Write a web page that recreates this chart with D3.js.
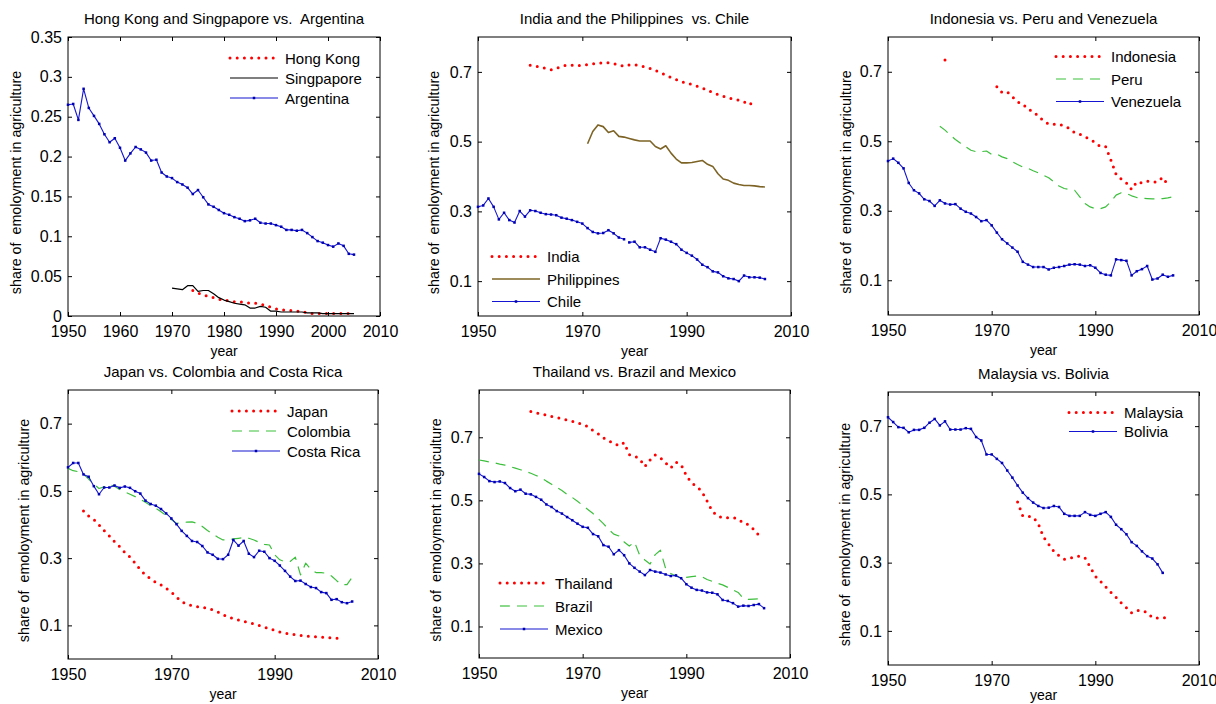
<!DOCTYPE html>
<html>
<head>
<meta charset="utf-8">
<script src="https://cdn.jsdelivr.net/npm/d3@7"></script>
<style>
  body { margin: 0; background: #fff; }
  text { font-family: Arial, "Liberation Sans", sans-serif; fill: #000; }
</style>
</head>
<body>
<div id="chart"></div>
<script>
// tick labels
var xTicksDecade = [1950, 1960, 1970, 1980, 1990, 2000, 2010];
var xTicksWide = [1950, 1970, 1990, 2010];
var yTicksSmall = [0, 0.05, 0.1, 0.15, 0.2, 0.25, 0.3, 0.35];
var yTicksShare = [0.1, 0.3, 0.5, 0.7];

// series: first year + one value per year (null = missing)
var hongKongStart = 1974;
var hongKong = [0.032,0.029,0.026,0.025,0.023,0.021,0.020,0.019,0.018,0.018,0.017,0.016,0.016,0.015,0.013,0.011,
  0.009,0.008,0.007,0.007,0.006,0.006,0.004,0.003,0.003,0.003,0.003,0.003,0.003,0.003,0.003];
var singaporeStart = 1970;
var singapore = [0.035,0.034,0.033,0.038,0.038,0.031,0.032,0.032,0.028,0.023,0.020,0.018,0.016,0.015,0.014,0.010,
  0.010,0.012,0.011,0.006,0.006,0.005,0.005,0.005,0.005,0.005,0.004,0.004,0.004,0.003,0.003,0.003,0.003,0.003,0.003,0.003];
var argentinaStart = 1950;
var argentina = [0.265,0.266,0.246,0.285,0.261,0.251,0.241,0.228,0.218,0.223,0.211,0.195,0.204,0.212,0.209,0.205,
  0.195,0.196,0.180,0.175,0.173,0.168,0.165,0.161,0.153,0.158,0.149,0.140,0.137,0.133,0.129,0.127,0.124,0.122,
  0.119,0.120,0.122,0.117,0.116,0.116,0.114,0.112,0.108,0.108,0.107,0.108,0.104,0.099,0.094,0.092,0.089,0.087,
  0.091,0.088,0.078,0.077];

var indiaStart = 1960;
var india = [0.719,0.717,0.713,0.710,0.706,0.710,0.716,0.719,0.719,0.718,0.719,0.721,0.723,0.725,0.726,0.726,
  0.724,0.720,0.716,0.720,0.721,0.718,0.714,0.710,0.704,0.698,0.691,0.684,0.678,0.672,0.668,0.664,0.659,0.654,
  0.647,0.641,0.635,0.630,0.625,0.622,0.619,0.614,0.605,0.617];
var philippinesStart = 1971;
var philippines = [0.494,0.529,0.548,0.543,0.526,0.531,0.515,0.513,0.509,0.505,0.502,0.502,0.502,0.486,0.479,
  0.488,0.467,0.450,0.439,0.439,0.440,0.443,0.446,0.435,0.429,0.408,0.393,0.389,0.381,0.377,0.374,0.374,0.373,
  0.371,0.370];
var chileStart = 1950;
var chile = [0.313,0.317,0.337,0.313,0.277,0.296,0.275,0.268,0.301,0.285,0.303,0.301,0.296,0.292,0.291,0.289,
  0.282,0.279,0.275,0.270,0.265,0.252,0.241,0.237,0.238,0.246,0.237,0.225,0.220];
var chileLateStart = 1979;
var chileLate = [0.211,0.213,0.197,0.197,0.190,0.184,0.223,0.219,0.213,0.206,0.190,0.181,0.173,0.162,0.147,
  0.140,0.128,0.125,0.114,0.108,0.106,0.100,0.116,0.111,0.111,0.110,0.106];

var indonesiaStart = 1961;
var indonesia = [0.734,null,null,null,null,null,null,null,null,null,0.657,0.640,0.642,0.628,0.613,0.608,0.592,
  0.586,0.572,0.559,0.549,0.549,0.549,0.544,0.537,0.525,0.520,0.513,0.505,0.496,0.484,0.484,0.446,0.405,0.391,
  0.380,0.361,0.383,0.380,0.385,0.383,0.383,0.396,0.374];
var peruStart = 1960;
var peru = [0.543,0.532,0.518,0.505,0.494,0.484,0.474,0.470,0.470,0.472,0.462,0.463,0.455,0.450,0.441,0.433,
  0.426,0.422,0.415,0.409,0.402,0.395,0.383,0.371,0.364,0.361,0.359,0.340,0.321,0.311,0.306,0.306,0.311,0.326,
  0.345,0.352,0.350,0.343,0.338,0.336,0.335,0.334,0.334,0.335,0.337,0.340];
var venezuelaStart = 1950;
var venezuela = [0.443,0.450,0.438,0.422,0.380,0.359,0.350,0.333,0.328,0.314,0.330,0.321,0.318,0.319,0.306,
  0.297,0.292,0.282,0.270,0.273,0.258,0.237,0.218,0.206,0.194,0.182,0.153,0.145,0.138,0.138,0.138,0.131,0.136,
  0.138,0.141,0.145,0.146,0.145,0.141,0.143,0.136,0.121,0.116,0.114,0.160,0.158,0.156,0.114,0.126,0.132,0.141,
  0.102,0.105,0.116,0.110,0.114];

var japanStart = 1953;
var japan = [0.440,0.425,0.415,0.399,0.382,0.366,0.349,0.334,0.317,0.303,0.285,0.265,0.250,0.238,0.228,0.220,
  0.210,0.199,0.184,0.171,0.163,0.159,0.156,0.153,0.151,0.146,0.140,0.132,0.125,0.120,0.116,0.112,0.108,0.105,
  0.100,0.095,0.090,0.085,0.080,0.077,0.074,0.072,0.070,0.068,0.067,0.066,0.065,0.064,0.063,0.062,0.060];
var colombiaStart = 1950;
var colombia = [0.567,0.560,0.557,0.550,0.535,0.520,0.507,0.512,0.518,0.514,0.504,0.497,0.490,0.483,0.475,
  0.466,0.456,0.448,0.438,0.427,0.415,0.403,0.406,0.407,0.408,0.403,0.394,0.382,0.372,0.362,0.354,0.354,0.357,
  0.359,0.361,0.359,0.354,0.347,0.341,0.339,0.310,0.295,0.289,0.290,0.303,0.250,0.285,0.267,0.257,0.257,0.255,
  0.247,0.233,0.221,0.221,0.243];
var costaRicaStart = 1950;
var costaRica = [0.570,0.583,0.583,0.549,0.542,0.514,0.490,0.510,0.510,0.516,0.509,0.513,0.509,0.499,0.492,
  0.471,0.461,0.456,0.446,0.433,0.418,0.401,0.381,0.366,0.351,0.348,0.336,0.317,0.310,0.298,0.297,0.310,0.354,
  0.337,0.351,0.313,0.303,0.322,0.319,0.300,0.292,0.278,0.262,0.245,0.232,0.233,0.223,0.214,0.211,0.199,0.196,
  0.176,0.178,0.169,0.166,0.171];

var thailandStart = 1960;
var thailand = [0.782,0.778,0.774,0.771,0.766,0.763,0.759,0.755,0.751,0.746,0.740,0.734,0.721,0.711,0.698,
  0.689,0.681,0.673,0.683,0.645,0.640,0.632,0.607,0.628,0.644,0.635,0.619,0.603,0.621,0.613,0.579,0.555,0.545,
  0.528,0.498,0.466,0.451,0.445,0.445,0.445,0.441,0.428,0.423,0.408,0.389];
var brazilStart = 1950;
var brazil = [0.628,0.625,0.622,0.619,0.615,0.612,0.607,0.602,0.597,0.592,0.586,0.579,0.572,0.561,0.551,0.541,
  0.531,0.519,0.509,0.497,0.484,0.471,0.458,0.442,0.426,0.408,0.393,0.387,0.368,0.355,0.368,0.326,0.311,0.298,
  0.328,0.342,0.284,0.268,0.260,0.253,0.256,0.258,0.260,0.258,0.249,0.243,0.237,0.232,0.224,0.216,0.208,0.189,
  0.186,0.187,0.188,0.189];
var mexicoStart = 1950;
var mexico = [0.584,0.574,0.561,0.558,0.560,0.555,0.539,0.529,0.534,0.521,0.519,0.511,0.502,0.487,0.479,0.466,
  0.458,0.447,0.437,0.426,0.416,0.413,0.393,0.386,0.358,0.353,0.329,0.342,0.326,0.300,0.286,0.274,0.263,0.279,
  0.274,0.271,0.265,0.260,0.262,0.253,0.234,0.223,0.216,0.214,0.208,0.207,0.202,0.184,0.181,0.174,0.163,0.166,
  0.165,0.168,0.171,0.158];

var malaysiaStart = 1975;
var malaysia = [0.478,0.437,0.436,0.434,0.414,0.375,0.354,0.333,0.320,0.310,0.312,0.317,0.319,0.314,0.287,
  0.260,0.245,0.229,0.213,0.198,0.182,0.168,0.153,0.160,0.160,0.154,0.139,0.138,0.138,0.139];
var boliviaStart = 1950;
var bolivia = [0.726,0.712,0.697,0.695,0.682,0.689,0.689,0.695,0.710,0.721,0.702,0.714,0.690,0.690,0.690,0.694,
  0.692,0.668,0.658,0.617,0.617,0.604,0.592,0.570,0.549,0.526,0.505,0.489,0.476,0.466,0.460,0.461,0.466,0.463,
  0.443,0.437,0.437,0.437,0.448,0.440,0.437,0.443,0.448,0.434,0.411,0.398,0.383,0.360,0.349,0.333,0.319,0.312,
  0.295,0.270];

function pts(start, values) {
  return values.map(function (v, i) { return { year: start + i, value: v }; });
}

// line styles
var styles = {
  dotted: { stroke: "#ff0000", width: 3, dash: "0,7.2", cap: "round" },
  black: { stroke: "#000000", width: 1.2 },
  brown: { stroke: "#7d6426", width: 1.6 },
  dashed: { stroke: "#3cbf3c", width: 1.2, dash: "10,7" },
  marked: { stroke: "#1414d2", width: 1.1, marker: "#0000b4" }
};

var panels = [
  { title: "Hong Kong and Singpapore vs.  Argentina", box: [68, 37, 380, 316], yMax: 0.35, yTicks: yTicksSmall,
    xTicks: xTicksDecade, ylabX: 47, legend: [230, 58, 20],
    series: [
      { name: "Hong Kong", data: [pts(hongKongStart, hongKong)], style: "dotted" },
      { name: "Singpapore", data: [pts(singaporeStart, singapore)], style: "black" },
      { name: "Argentina", data: [pts(argentinaStart, argentina)], style: "marked" }] },
  { title: "India and the Philippines  vs. Chile", box: [478, 37, 791, 316], yMax: 0.8, yTicks: yTicksShare,
    xTicks: xTicksWide, ylabX: 39, legend: [492, 256.5, 22.5],
    series: [
      { name: "India", data: [pts(indiaStart, india)], style: "dotted" },
      { name: "Philippines", data: [pts(philippinesStart, philippines)], style: "brown" },
      { name: "Chile", data: [pts(chileStart, chile), pts(chileLateStart, chileLate)], style: "marked" }] },
  { title: "Indonesia vs. Peru and Venezuela", box: [888, 37, 1199, 315], yMax: 0.8, yTicks: yTicksShare,
    xTicks: xTicksWide, ylabX: 37.5, legend: [1056, 56.5, 22.5],
    series: [
      { name: "Indonesia", data: [pts(indonesiaStart, indonesia)], style: "dotted" },
      { name: "Peru", data: [pts(peruStart, peru)], style: "dashed" },
      { name: "Venezuela", data: [pts(venezuelaStart, venezuela)], style: "marked" }] },
  { title: "Japan vs. Colombia and Costa Rica", box: [68, 390, 378, 659], yMax: 0.8, yTicks: yTicksShare,
    xTicks: xTicksWide, ylabX: 39, legend: [232, 411, 20],
    series: [
      { name: "Japan", data: [pts(japanStart, japan)], style: "dotted" },
      { name: "Colombia", data: [pts(colombiaStart, colombia)], style: "dashed" },
      { name: "Costa Rica", data: [pts(costaRicaStart, costaRica)], style: "marked" }] },
  { title: "Thailand vs. Brazil and Mexico", box: [479, 390, 790, 658], yMax: 0.85, yTicks: yTicksShare,
    xTicks: xTicksWide, ylabX: 38.5, legend: [500, 583, 23],
    series: [
      { name: "Thailand", data: [pts(thailandStart, thailand)], style: "dotted" },
      { name: "Brazil", data: [pts(brazilStart, brazil)], style: "dashed" },
      { name: "Mexico", data: [pts(mexicoStart, mexico)], style: "marked" }] },
  { title: "Malaysia vs. Bolivia", box: [888, 392, 1199, 665], yMax: 0.8, yTicks: yTicksShare,
    xTicks: xTicksWide, ylabX: 38.5, legend: [1069, 412.5, 19],
    series: [
      { name: "Malaysia", data: [pts(malaysiaStart, malaysia)], style: "dotted" },
      { name: "Bolivia", data: [pts(boliviaStart, bolivia)], style: "marked" }] }
];

var svg = d3.select("#chart").append("svg")
  .attr("width", 1216)
  .attr("height", 704);

function applyStyle(sel, st) {
  sel.attr("fill", "none")
    .attr("stroke", st.stroke)
    .attr("stroke-width", st.width)
    .attr("stroke-dasharray", st.dash || null)
    .attr("stroke-linecap", st.cap || "butt")
    .attr("stroke-linejoin", "round");
}

panels.forEach(function (p) {
  var left = p.box[0], top = p.box[1], width = p.box[2] - p.box[0], height = p.box[3] - p.box[1];
  var g = svg.append("g").attr("transform", "translate(" + left + "," + top + ")");

  var x = d3.scaleLinear().domain([1950, 2010]).range([0, width]);
  var y = d3.scaleLinear().domain([0, p.yMax]).range([height, 0]);

  // axes with inward ticks on all four sides
  var fmt = d3.format("~g");
  g.append("g").attr("class", "axis")
    .call(d3.axisLeft(y).tickValues(p.yTicks).tickSizeInner(-4).tickSizeOuter(0).tickPadding(6).tickFormat(fmt));
  g.append("g").attr("transform", "translate(" + width + ",0)")
    .call(d3.axisRight(y).tickValues(p.yTicks).tickSizeInner(-4).tickSizeOuter(0).tickFormat(""));
  g.append("g").attr("class", "axis").attr("transform", "translate(0," + height + ")")
    .call(d3.axisBottom(x).tickValues(p.xTicks).tickSizeInner(-4).tickSizeOuter(0).tickPadding(10).tickFormat(d3.format("d")));
  g.append("g")
    .call(d3.axisTop(x).tickValues(p.xTicks).tickSizeInner(-4).tickSizeOuter(0).tickFormat(""));
  g.selectAll(".domain").remove();
  g.selectAll(".tick line").attr("stroke", "#000");
  g.selectAll(".axis text").style("font-size", "16px").attr("fill", "#000");

  g.append("rect")
    .attr("width", width).attr("height", height)
    .attr("fill", "none").attr("stroke", "#000").attr("stroke-width", 1);

  // titles and labels
  g.append("text")
    .attr("x", width / 2).attr("y", -13)
    .attr("text-anchor", "middle")
    .style("font-size", "15px")
    .style("white-space", "pre")
    .text(p.title);
  g.append("text")
    .attr("x", width / 2).attr("y", Math.min(height + 40, 700 - top))
    .attr("text-anchor", "middle")
    .style("font-size", "14px")
    .text("year");
  g.append("text")
    .attr("transform", "translate(" + (-p.ylabX) + "," + (height / 2 + 6) + ") rotate(-90)")
    .attr("text-anchor", "middle")
    .style("font-size", "14.3px")
    .style("white-space", "pre")
    .text("share of  emoloyment in agriculture");

  var line = d3.line()
    .defined(function (d) { return d.value !== null; })
    .x(function (d) { return x(d.year); })
    .y(function (d) { return y(d.value); });

  var plot = g.append("g");
  p.series.forEach(function (s) {
    var st = styles[s.style];
    s.data.forEach(function (part) {
      plot.append("path").datum(part).attr("d", line).call(applyStyle, st);
      if (s.style === "dotted") {
        // isolated points get a single dot
        var lone = part.filter(function (d, i) {
          var prev = part[i - 1], next = part[i + 1];
          return d.value !== null && (!prev || prev.value === null) && (!next || next.value === null);
        });
        plot.selectAll(null).data(lone).enter().append("circle")
          .attr("cx", function (d) { return x(d.year); })
          .attr("cy", function (d) { return y(d.value); })
          .attr("r", st.width / 2)
          .attr("fill", st.stroke);
      }
      if (st.marker) {
        plot.selectAll(null).data(part.filter(function (d) { return d.value !== null; }))
          .enter().append("rect")
          .attr("x", function (d) { return x(d.year) - 1.25; })
          .attr("y", function (d) { return y(d.value) - 1.25; })
          .attr("width", 2.5).attr("height", 2.5)
          .attr("fill", st.marker);
      }
    });
  });

  // legend (no frame)
  var lx = p.legend[0] - left, ly = p.legend[1] - top, step = p.legend[2];
  p.series.forEach(function (s, i) {
    var st = styles[s.style];
    var yy = ly + i * step;
    g.append("line")
      .attr("x1", lx).attr("x2", lx + 48).attr("y1", yy).attr("y2", yy)
      .call(applyStyle, st);
    if (st.marker) {
      g.append("rect")
        .attr("x", lx + 24 - 1.25).attr("y", yy - 1.25)
        .attr("width", 2.5).attr("height", 2.5)
        .attr("fill", st.marker);
    }
    g.append("text")
      .attr("x", lx + 55).attr("y", yy + 5.5)
      .style("font-size", "15px")
      .text(s.name);
  });
});
</script>
</body>
</html>
